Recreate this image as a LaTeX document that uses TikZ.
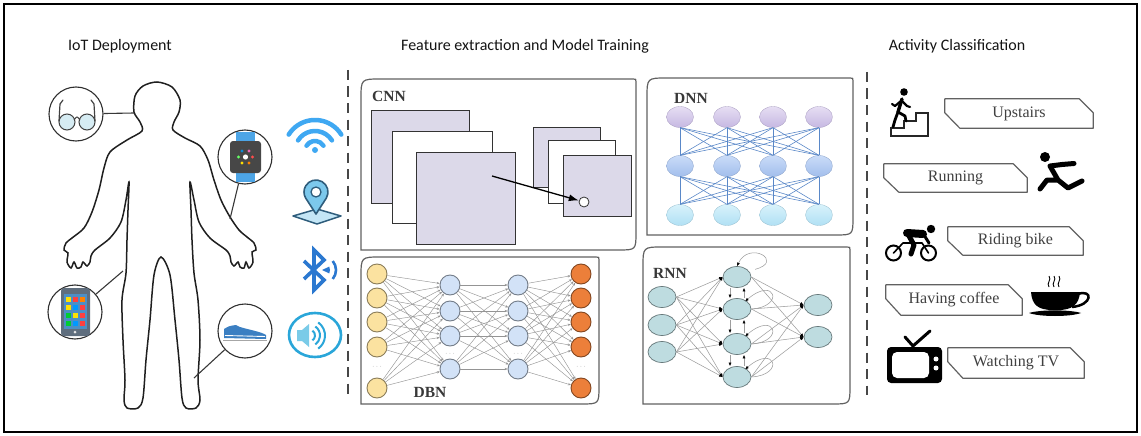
\documentclass[tikz,border=0pt]{standalone}
\usepackage{fontspec}
\setmainfont{Liberation Serif}
\newfontfamily\headfont{Carlito}
\usetikzlibrary{positioning,arrows.meta,shapes.geometric}

\definecolor{fmapfill}{HTML}{DCD9E9}
\definecolor{dbnyel}{HTML}{FBE2A0}
\definecolor{dbnblu}{HTML}{D2E2F7}
\definecolor{dbnora}{HTML}{EC7F3A}
\definecolor{dnnpa}{HTML}{E6DEF3}
\definecolor{dnnpb}{HTML}{C6B8E2}
\definecolor{dnnma}{HTML}{CADCF8}
\definecolor{dnnmb}{HTML}{A2BEEC}
\definecolor{dnnla}{HTML}{D8F2FB}
\definecolor{dnnlb}{HTML}{B0E0F4}
\definecolor{dnnedge}{HTML}{5A88C8}
\definecolor{rnnfill}{HTML}{BEDCE0}
\definecolor{wifiblue}{HTML}{3FA8F2}
\definecolor{pinblue}{HTML}{7CC8EC}
\definecolor{pindark}{HTML}{2F5D7C}
\definecolor{btblue}{HTML}{2B78D0}
\definecolor{spkblue}{HTML}{2AA6D9}
\definecolor{spklight}{HTML}{7ACBE8}
\definecolor{strap}{HTML}{4DA5E6}
\definecolor{lens}{HTML}{D6ECF3}
\definecolor{shoeblue}{HTML}{3B7FC2}
\definecolor{phonebody}{HTML}{5F6E7E}
\definecolor{phonescreen}{HTML}{4C8FC6}

\newcommand\panel[4]{% box with soft top-left and bottom-right corners
  \draw[panel] (#1,#4) -- (#1,#2+20) .. controls (#1,#2) .. (#1+20,#2)
    -- (#3-3,#2) .. controls (#3,#2) .. (#3,#2+3)
    -- (#3,#4-18) .. controls (#3,#4) .. (#3-18,#4) -- cycle;}
\newcommand\tagshape[1]{% label plate with two clipped corners
  \draw[tagline] (#1.north west) -- ([xshift=-14pt]#1.north east)
    -- ([yshift=-14pt]#1.north east) -- (#1.south east)
    -- ([xshift=15pt]#1.south west) -- ([yshift=-14pt]#1.north west) -- cycle;}

\begin{document}
\begin{tikzpicture}[x=1pt,y=-1pt,
    head/.style={font=\headfont\fontsize{16}{19}\selectfont,text=black!92,inner sep=0pt},
    netlabel/.style={font=\fontsize{15.5}{18}\selectfont\bfseries,text=black!78,inner sep=0pt},
    tagtext/.style={font=\fontsize{16}{18}\selectfont,text=black!75,minimum height=29pt,inner sep=0pt},
    tagline/.style={draw=black!62,line width=1.2pt,line join=round},
    panel/.style={draw=black!62,line width=1.2pt},
    sepline/.style={draw=black!72,line width=1.5pt,dash pattern=on 10pt off 6.5pt},
    body/.style={draw=black!88,line width=1.5pt},
    sensor/.style={circle,draw=black!82,line width=1.1pt,minimum size=54pt,inner sep=0pt},
    link/.style={draw=black!78,line width=1.1pt},
    fmap/.style={draw=black!80,line width=1pt,fill=fmapfill},
    dbn/.style={circle,draw=#1!55!black,fill=#1,line width=.9pt,minimum size=20pt,inner sep=0pt},
    dbnedge/.style={draw=black!42,line width=.45pt,-{Stealth[length=3pt,width=2.4pt]}},
    dots/.style={font=\scriptsize,text=black!45,inner sep=0pt},
    dnn/.style args={#1/#2}{ellipse,top color=#1,bottom color=#2,draw=#2!85!black,line width=.3pt,
      minimum width=27pt,minimum height=21pt,inner sep=0pt},
    dnnedge/.style={draw=dnnedge,line width=.6pt},
    rnn/.style={ellipse,fill=rnnfill,draw=rnnfill!55!black,line width=.7pt,minimum width=28pt,
      minimum height=21pt,inner sep=0pt},
    rnnedge/.style={draw=black!38,line width=.55pt,-{Latex[length=3.5pt,width=3pt,color=black]}},
    glyph/.style={line cap=round,line join=round},
  ]
  \useasboundingbox (0,0) rectangle (1141,436);
  \draw[line width=2.6pt] (4,4) rectangle (1137,432);

  \node[head] (TIoT)  at (120,46) {IoT Deployment};
  \node[head] (TFeat) at (525,46) {Feature extraction and Model Training};
  \node[head] (TAct)  at (957,46) {Activity Classification};

  \draw[sepline] (348,70) -- (348,395);
  \draw[sepline] (867,72) -- (867,395);

  % wearer
  \draw[body] plot[smooth cycle,tension=.5] coordinates {
    (157,82) (172,87) (180,100) (179,112) (174,122) (173,130) (185,138) (200,146)
    (208,160) (214,180) (221,200) (230,217) (239,230) (247,237) (254,243) (256,250)
    (252,252) (253,262) (249,268) (246,262) (244,268) (240,267) (238,262) (234,266)
    (231,262) (230,256) (226,250) (210,238) (199,222) (194,200) (190,182) (191,210)
    (192,240) (194,273) (198,300) (200,340) (198,380) (200,400) (196,408) (186,408)
    (182,398) (179,360) (175,320) (170,275) (161,257) (154,275) (150,320) (146,360)
    (143,398) (138,408) (127,408) (124,400) (125,380) (123,340) (122,300) (126,273)
    (127,240) (128,210) (129,182) (126,200) (121,222) (110,238) (95,250) (91,256)
    (90,262) (87,266) (83,262) (81,267) (77,268) (74,262) (71,268) (67,262)
    (68,253) (64,250) (66,243) (72,238) (84,228) (92,212) (99,190) (104,168)
    (110,152) (127,140) (142,131) (140,122) (134,112) (135,96) (143,86)};
  \coordinate (eye)   at (134,113);
  \coordinate (wrist) at (230,219);
  \coordinate (hip)   at (123,271);
  \coordinate (ankle) at (194,378);
  \node[sensor] (GL) at (76,114) {};
  \node[sensor] (SW) at (245,157) {};
  \node[sensor] (PH) at (75,312) {};
  \node[sensor] (SH) at (245,331) {};
  \draw[link] (GL)--(eye); \draw[link] (SW)--(wrist);
  \draw[link] (PH)--(hip); \draw[link] (SH)--(ankle);

  \draw[black!75,line width=1pt,fill=lens] (67,122) circle (8) (87,122) circle (8);
  \draw[black!75,line width=1pt] (74,120) .. controls (77,116) .. (80,120);
  \draw[black!75,line width=1.2pt,glyph] (59,121) -- (60,104) -- (63,100) (95,121) -- (94,104) -- (91,100);

  \fill[strap] (236,132) rectangle (255,182);
  \fill[black!72,rounded corners=3pt] (230,141) rectangle (261,173);
  \foreach \a/\c in {0/red!70,60/orange,120/yellow!80!orange,180/green!60,240/cyan!70!blue,300/magenta!60}
    {\fill[\c] (245.5,157) ++(\a:7) circle (1.6);}
  \fill[white] (245.5,157) circle (2.6);

  \fill[phonebody,rounded corners=3pt] (61,288) rectangle (90,336);
  \fill[phonescreen] (64,294) rectangle (87,329);
  \foreach \c [count=\k from 0] in {yellow!85!orange,red!75,orange,yellow!85!orange,blue!40!cyan,red!75,
      green!60!teal,yellow!85!orange,red!75,green!60!teal,blue!40!cyan,red!75}{
    \pgfmathtruncatemacro\cx{mod(\k,3)}\pgfmathtruncatemacro\cy{floor(\k/3)}
    \fill[\c] (66+7*\cx,297+8*\cy) rectangle ++(5,5);}
  \fill[white!90!black] (75,332) circle (1.5);

  \fill[shoeblue] (224,338) -- (224,329) .. controls (229,326) .. (236,325) -- (240,327)
    .. controls (250,330) and (262,332) .. (266,335) -- (266,339) -- cycle;
  \draw[white,line width=.9pt] (225,335.5) -- (265,336.5);
  \draw[black!35,line width=1.3pt] (223,340.5) -- (267,340.5);

  % radio links
  \foreach \rad in {10,20,31}
    {\draw[wifiblue,line width=4.5pt,line cap=round] (315,151) ++(212:\rad) arc[start angle=212,end angle=328,radius=\rad];}
  \fill[wifiblue] (315,150) circle (3);

  \draw[pindark,fill=pinblue!45,line width=1.5pt,line join=round] (293,216) -- (317,209) -- (341,216) -- (317,224) -- cycle;
  \draw[pindark,fill=pinblue,line width=1.6pt,line join=round] (316,214) -- (326.4,198) arc[start angle=30,end angle=-210,radius=12] -- cycle;
  \draw[pindark,fill=white,line width=1.3pt] (316,192) circle (5);

  \draw[btblue,line width=3.6pt,line join=miter] (304,261) -- (324,280) -- (314,290) -- (314,250) -- (324,260) -- (304,279);
  \fill[btblue] (322,270) -- ++(-25:8) arc[start angle=-25,end angle=25,radius=8] -- cycle;
  \draw[btblue,line width=2.6pt] (322,270) ++(-40:14) arc[start angle=-40,end angle=40,radius=14];

  \draw[spkblue,line width=2.6pt] (315,335) ellipse [x radius=26, y radius=22];
  \fill[spklight] (297,330) rectangle (302,341) (302,330) -- (309,324) -- (309,347) -- (302,341) -- cycle;
  \foreach \rad in {6,11,16}
    {\draw[spkblue,line width=2pt] (309,335.5) ++(-55:\rad) arc[start angle=-55,end angle=55,radius=\rad];}

  % CNN
  \panel{361}{79}{636}{250}
  \node[netlabel] (CNN) at (389,96) {CNN};
  \draw[fmap] (371,110) rectangle (469,203);
  \draw[fmap,fill=white] (392,131) rectangle (492,223);
  \draw[fmap] (416,152) rectangle (515,244);
  \draw[fmap] (533,127) rectangle (600,187);
  \draw[fmap,fill=white] (548,140) rectangle (615,203);
  \draw[fmap] (563,155) rectangle (631,216);
  \coordinate (K) at (492,176);
  \node[circle,draw=black!80,fill=white,line width=.8pt,minimum size=10pt,inner sep=0pt] (P) at (584,202) {};
  \draw[-{Latex[length=10pt,width=7pt]},line width=1.3pt] (K) -- (P);

  % DBN
  \panel{361}{257}{599}{404}
  \foreach \i/\y in {1/274,2/298,3/322,4/347,5/388}{
    \node[dbn=dbnyel] (A\i) at (377,\y) {};
    \node[dbn=dbnora] (D\i) at (581,\y) {};}
  \foreach \i/\y in {1/285,2/311,3/336,4/369}{
    \node[dbn=dbnblu] (B\i) at (450,\y) {};
    \node[dbn=dbnblu] (C\i) at (518,\y) {};}
  \foreach \i in {1,...,5}{\foreach \j in {1,...,4}{
    \draw[dbnedge] (A\i)--(B\j); \draw[dbnedge] (C\j)--(D\i);}}
  \foreach \i in {1,...,4}{\foreach \j in {1,...,4}{\draw[dbnedge] (B\i)--(C\j);}}
  \node[dots] (A0) at (377,367) {$\cdots$};
  \node[dots] (D0) at (581,367) {$\cdots$};
  \node[dots] (B0) at (450,354) {$\cdots$};
  \node[dots] (C0) at (518,354) {$\cdots$};
  \node[netlabel] (DBN) at (430,392) {DBN};

  % DNN
  \panel{647}{78}{853}{235}
  \node[netlabel] (DNN) at (691,98) {DNN};
  \foreach \i/\x in {1/680,2/727,3/773,4/819}{
    \node[dnn=dnnpa/dnnpb] (U\i) at (\x,117) {};
    \node[dnn=dnnma/dnnmb] (V\i) at (\x,166) {};
    \node[dnn=dnnla/dnnlb] (W\i) at (\x,215) {};}
  \foreach \i in {1,...,4}{\foreach \j in {1,...,4}{
    \draw[dnnedge] (U\i.south)--(V\j.north); \draw[dnnedge] (V\i.south)--(W\j.north);}}

  % RNN
  \panel{643}{247}{850}{404}
  \node[netlabel] (RNN) at (670,273) {RNN};
  \foreach \i/\y in {1/297,2/325,3/352}{\node[rnn] (I\i) at (662,\y) {};}
  \foreach \i/\y in {1/277,2/309,3/344,4/377}{\node[rnn] (H\i) at (737,\y) {};}
  \foreach \i/\y in {1/305,2/337}{\node[rnn] (O\i) at (818,\y) {};}
  \foreach \i in {1,2,3}{\foreach \j in {1,...,4}{\draw[rnnedge] (I\i.east)--(H\j.west);}}
  \foreach \i in {1,...,4}{\foreach \j in {1,2}{\draw[rnnedge] (H\i.east)--(O\j.west);}}
  \foreach \i/\j in {1/2,2/3,3/4}{
    \draw[rnnedge] ([xshift=-7pt]H\i.south)--([xshift=-7pt]H\j.north);
    \draw[rnnedge] ([xshift=7pt]H\j.north)--([xshift=7pt]H\i.south);}
  \draw[rnnedge] ([xshift=8pt]H1.north east) .. controls +(30,-8) and +(12,-26) .. (H1.north);
  \foreach \i in {2,3,4}{\draw[rnnedge] (H\i.east) .. controls +(34,-2) and +(30,-26) .. ([xshift=-2pt]H\i.north east);}

  % activities
  \node[tagtext,minimum width=148pt] (UPS) at (1019,113.5) {Upstairs};
  \node[tagtext,minimum width=143pt,minimum height=28pt] (RUN) at (955.5,178) {Running};
  \node[tagtext,minimum width=135pt,minimum height=28pt] (BIK) at (1015.5,241) {Riding bike};
  \node[tagtext,minimum width=136pt,minimum height=30pt] (COF) at (954,300) {Having coffee};
  \node[tagtext,minimum width=136pt,minimum height=30pt] (TVW) at (1016,363) {Watching TV};
  \foreach \t in {UPS,RUN,BIK,COF,TVW}{\tagshape{\t}}

  \draw[black!85,line width=1.5pt] (891,136) -- (891,128) -- (904,128) -- (904,121) -- (916,121)
    -- (916,113) -- (928,113) -- (928,136) -- cycle;
  \fill (904,92) circle (3.8);
  \draw[glyph,line width=3.4pt] (902,99) -- (898,112);
  \draw[glyph,line width=2.8pt] (898,112) -- (895,120) -- (893,127) (898,112) -- (905,116) -- (906,121);
  \draw[glyph,line width=2.2pt] (901,101) -- (895,106) -- (892,104) (902,101) -- (907,106) -- (910,107);

  \fill (1045,157) circle (5);
  \draw[glyph,line width=5pt] (1050,166) -- (1058,180) (1050,166) -- (1062,164.5) -- (1074,163.5)
    (1058,180) -- (1047,180) -- (1040,189) (1058,180) -- (1068,188) -- (1082,181);

  \draw[line width=2pt] (893.5,253) circle (7.5) (928.5,253) circle (7.5);
  \draw[glyph,line width=1.6pt] (893.5,253) -- (903,243) -- (922,243) -- (928.5,253);
  \fill (931,229) circle (4.2);
  \draw[glyph,line width=8pt] (907,233) -- (923,234);
  \draw[glyph,line width=3pt] (924,235) -- (929,243);
  \draw[glyph,line width=5pt] (909,236) -- (914,245) -- (911,254);

  \fill (1031,292) -- (1080,292) .. controls (1079,305) and (1072,310) .. (1058,310) -- (1053,310)
    .. controls (1038,310) and (1032,305) .. (1031,292) -- cycle;
  \draw[line width=2.5pt] (1078,294) .. controls (1093,289) and (1093,305) .. (1072,307);
  \fill (1029,313) .. controls (1040,309.5) and (1070,309.5) .. (1081,313)
    .. controls (1070,317) and (1040,317) .. (1029,313) -- cycle;
  \foreach \sx in {1049,1054,1059}
    {\draw[line width=.9pt] (\sx,287) .. controls (\sx-3,283) and (\sx+3,280) .. (\sx,276);}

  \fill[rounded corners=4pt] (887,347) rectangle (942,383);
  \fill[white,rounded corners=5pt] (892,352) rectangle (929,378);
  \fill[white] (936,359) circle (2.5) (936,368) circle (2.5);
  \draw[glyph,line width=3pt] (905,337) -- (913,346) -- (930,331);
\end{tikzpicture}
\end{document}
